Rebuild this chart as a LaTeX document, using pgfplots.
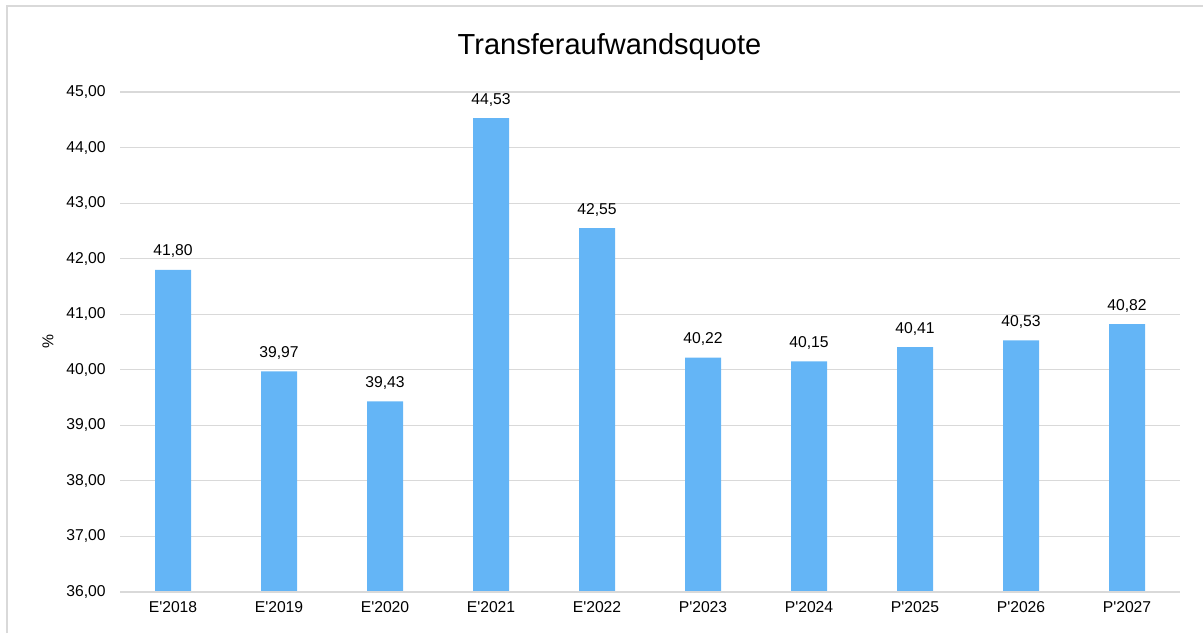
\documentclass[border=0pt]{standalone}
\usepackage{fontspec}
\setmainfont{Liberation Sans}
\usepackage{pgfplots}
\pgfplotsset{compat=1.18}
\definecolor{barblue}{HTML}{64B5F6}
\definecolor{gridgray}{HTML}{D9D9D9}
\newcommand{\q}{\textquotesingle}
\begin{document}
\begin{tikzpicture}
\path[use as bounding box] (0,0) rectangle (601.5pt,316.5pt);
\draw[gridgray, line width=0.75pt] (3.5pt,0) -- (3.5pt,313.5pt) -- (601.5pt,313.5pt);
\begin{axis}[
  at={(60pt,20.5pt)}, anchor=south west,
  scale only axis, width=530pt, height=250pt,
  xmin=-0.5, xmax=9.5, ymin=36, ymax=45,
  ytick={36,37,...,45},
  xtick={0,...,9},
  xticklabels={E\q2018,E\q2019,E\q2020,E\q2021,E\q2022,P\q2023,P\q2024,P\q2025,P\q2026,P\q2027},
  axis line style={draw=none},
  tick style={draw=none},
  ymajorgrids, grid style={gridgray, line width=0.6pt},
  /pgf/number format/fixed,
  /pgf/number format/fixed zerofill,
  /pgf/number format/precision=2,
  /pgf/number format/use comma,
  /pgf/number format/assume math mode=true,
  font=\fontsize{7.85}{9}\selectfont,
  yticklabel style={inner sep=0pt, xshift=-7pt},
  xticklabel style={inner sep=0pt, yshift=-4.5pt},
  ylabel={\%},
  ylabel style={at={(axis description cs:-0.068,0.5)}, anchor=center},
  title={Transferaufwandsquote},
  title style={at={(axis description cs:0.4618,1.0514)}, anchor=base, font=\fontsize{14.5}{17}\selectfont, inner sep=0pt},
  nodes near coords,
  nodes near coords style={anchor=base, inner sep=0pt, yshift=7pt, font=\fontsize{7.85}{9}\selectfont},
]
\addplot[ybar, bar width=18pt, fill=barblue, draw=none] coordinates {
(0,41.80) (1,39.97) (2,39.43) (3,44.53) (4,42.55) (5,40.22) (6,40.15) (7,40.41) (8,40.53) (9,40.82)
};
\draw[gridgray, line width=1pt] (axis cs:-0.5,36) -- (axis cs:9.5,36);
\end{axis}
\end{tikzpicture}
\end{document}
